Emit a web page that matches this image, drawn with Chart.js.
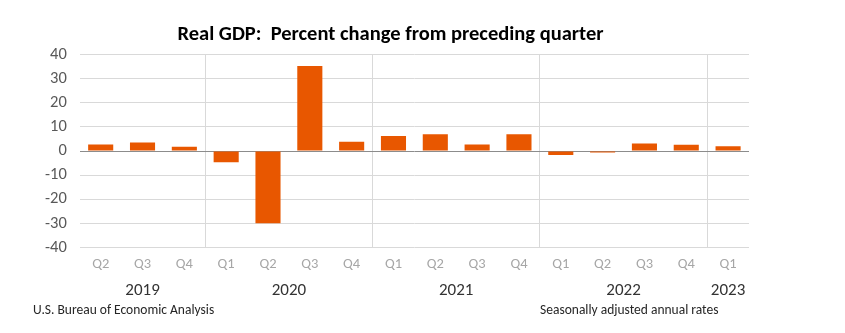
<!DOCTYPE html>
<html>
<head>
<meta charset="utf-8">
<script src="https://cdn.jsdelivr.net/npm/chart.js@4/dist/chart.umd.min.js"></script>
<style>
  html, body { margin: 0; padding: 0; background: #fff; }
  #wrap { width: 845px; height: 333px; }
</style>
</head>
<body>
<div id="wrap"><canvas id="gdpChart"></canvas></div>
<script>
const quarters = ["Q2", "Q3", "Q4", "Q1", "Q2", "Q3", "Q4", "Q1", "Q2", "Q3", "Q4", "Q1", "Q2", "Q3", "Q4", "Q1"];
const years = ["2019", "2019", "2019", "2020", "2020", "2020", "2020", "2021", "2021", "2021", "2021", "2022", "2022", "2022", "2022", "2023"];
const gdpChange = [2.7, 3.6, 1.8, -4.6, -29.9, 35.3, 3.9, 6.3, 7.0, 2.7, 7.0, -1.6, -0.6, 3.2, 2.6, 2.0];
const yMin = -40, yMax = 40, yStep = 10;

const FONT = "Carlito, Lato, 'Open Sans', sans-serif";

// year labels under the quarters + source notes
const yearLabels = {
  id: "yearLabels",
  afterDraw(chart) {
    const { ctx, chartArea, scales: { x } } = chart;
    ctx.save();
    ctx.font = "17px " + FONT;
    ctx.fillStyle = "#333";
    ctx.textAlign = "center";
    ctx.textBaseline = "middle";
    let start = 0;
    for (let i = 1; i <= years.length; i++) {
      if (i === years.length || years[i] !== years[start]) {
        const mid = (x.getPixelForValue(start) + x.getPixelForValue(i - 1)) / 2;
        ctx.fillText(years[start], mid, chartArea.bottom + 43);
        start = i;
      }
    }
    ctx.font = "13.5px " + FONT;
    ctx.fillStyle = "#262626";
    ctx.textAlign = "left";
    ctx.fillText("U.S. Bureau of Economic Analysis", 33, 311);
    ctx.fillText("Seasonally adjusted annual rates", 540, 311);
    ctx.restore();
  }
};

new Chart(gdpChart, {
  type: "bar",
  data: {
    labels: quarters,
    datasets: [{ data: gdpChange, backgroundColor: "#e85700", categoryPercentage: 1, barPercentage: 0.6 }]
  },
  options: {
    responsive: true,
    maintainAspectRatio: false,
    animation: false,
    layout: { padding: { left: 32, right: 96, top: 0, bottom: 52 } },
    plugins: {
      legend: { display: false },
      tooltip: { enabled: false },
      title: {
        display: true,
        text: "Real GDP:  Percent change from preceding quarter",
        color: "#000",
        font: { family: FONT, size: 20.5, weight: "bold" },
        padding: { top: 23, bottom: 7 }
      }
    },
    scales: {
      x: {
        border: { display: false },
        grid: {
          offset: true,
          drawTicks: false,
          color: c => (c.index > 0 && c.index < years.length && years[c.index] !== years[c.index - 1]) ? "#d9d9d9" : "rgba(0,0,0,0)"
        },
        ticks: { color: "#a6a6a6", padding: 8, font: { family: FONT, size: 14.5 }, maxRotation: 0, autoSkip: false }
      },
      y: {
        min: yMin,
        max: yMax,
        border: { display: false },
        grid: {
          drawTicks: false,
          color: c => c.tick.value === 0 ? "#8c8c8c" : "#d9d9d9"
        },
        ticks: { stepSize: yStep, color: "#595959", padding: 13, font: { family: FONT, size: 16.5 } }
      }
    }
  },
  plugins: [yearLabels]
});
</script>
</body>
</html>
